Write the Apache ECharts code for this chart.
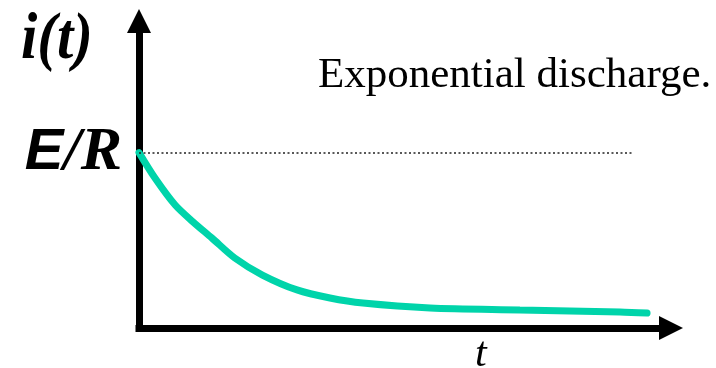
<!DOCTYPE html>
<html>
<head>
<meta charset="utf-8">
<script src="https://cdn.jsdelivr.net/npm/echarts@6/dist/echarts.min.js"></script>
<style>
  html, body { margin: 0; padding: 0; background: #fff; }
  #main { width: 716px; height: 368px; }
</style>
</head>
<body>
<div id="main"></div>
<script>
// discharge curve (t in arbitrary units, i as fraction of E/R)
const tValues = [0, 0.30, 0.68, 1.02, 1.37, 1.80, 2.32, 2.97, 3.59, 4.21, 5.47, 7.16, 9.04, 9.55];
const iValues = [1.0, 0.855, 0.701, 0.604, 0.513, 0.399, 0.302, 0.217, 0.171, 0.142, 0.114, 0.103, 0.091, 0.085];
const erLevel = 1;
const erLineEnd = 9.27;
const tMax = 10;
const iMax = 1.75;

const chart = echarts.init(document.getElementById('main'), null, { renderer: 'canvas' });

const points = tValues.map(function (t, k) { return [t, iValues[k]]; });

const axisLine = {
  show: true,
  symbol: ['none', 'triangle'],
  symbolSize: [24, 24],
  lineStyle: { color: '#000', width: 7, cap: 'square' }
};

var option = {
  animation: false,
  backgroundColor: '#fff',
  grid: { left: 139, right: 45, top: 21, bottom: 40 },
  xAxis: {
    type: 'value',
    min: 0,
    max: tMax,
    axisLine: axisLine,
    axisTick: { show: false },
    axisLabel: { show: false },
    splitLine: { show: false }
  },
  yAxis: {
    type: 'value',
    min: 0,
    max: iMax,
    axisLine: axisLine,
    axisTick: { show: false },
    splitLine: { show: false },
    axisLabel: {
      show: true,
      customValues: [erLevel],
      margin: 17,
      formatter: function () { return '{e|E}{r|/R}'; },
      rich: {
        e: { fontFamily: 'Liberation Sans', fontStyle: 'italic', fontWeight: 'bold', fontSize: 58, color: '#000' },
        r: { fontFamily: 'Liberation Serif', fontStyle: 'italic', fontWeight: 'bold', fontSize: 62, color: '#000' }
      }
    }
  },
  graphic: [
    {
      type: 'text', x: 21, y: 8, scaleX: 0.89,
      style: { text: 'i(t)', fill: '#000', font: 'italic bold 66px "Liberation Serif"' }
    },
    {
      type: 'text', left: 318, top: 54,
      style: { text: 'Exponential discharge.', fill: '#000', font: '43px "Liberation Serif"' }
    },
    {
      type: 'text', left: 475, top: 334,
      style: { text: 't', fill: '#000', font: 'italic 42px "Liberation Serif"' }
    }
  ],
  series: [{
    type: 'line',
    data: points,
    smooth: 0.3,
    symbol: 'none',
    lineStyle: { color: '#00D4AA', width: 7, cap: 'round' },
    z: 3,
    markLine: {
      silent: true,
      symbol: ['none', 'none'],
      label: { show: false },
      lineStyle: { color: '#222', type: [2, 2.5], width: 1.5 },
      data: [[{ coord: [0, erLevel] }, { coord: [erLineEnd, erLevel] }]]
    }
  }]
};
chart.setOption(option);
</script>
</body>
</html>
